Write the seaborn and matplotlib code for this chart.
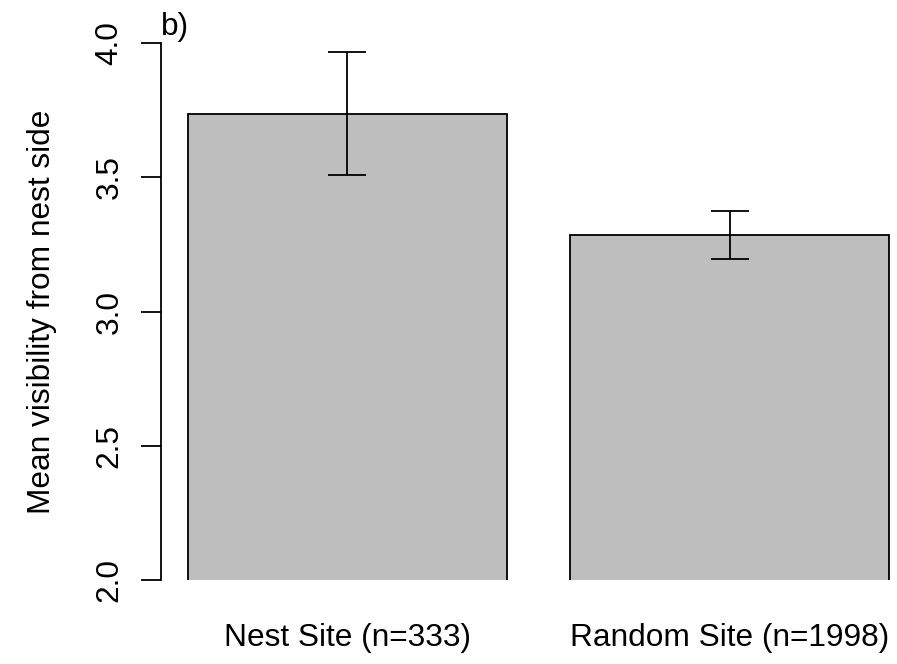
import matplotlib
matplotlib.use("Agg")
import matplotlib.pyplot as plt
import seaborn as sns
import pandas as pd

# data
sites = ["Nest Site (n=333)", "Random Site (n=1998)"]
mean_vis = [3.736, 3.286]
se_vis = [0.229, 0.089]
y_ticks = [2.0, 2.5, 3.0, 3.5, 4.0]

sns.set_style("ticks")
plt.rcParams['font.family'] = ['Liberation Sans', 'DejaVu Sans']
plt.rcParams['font.size'] = 22.8
plt.rcParams['text.color'] = 'black'
plt.rcParams['axes.edgecolor'] = 'black'
plt.rcParams['xtick.color'] = 'black'
plt.rcParams['ytick.color'] = 'black'
plt.rcParams['xtick.labelcolor'] = 'black'
plt.rcParams['ytick.labelcolor'] = 'black'

df = pd.DataFrame({"site": sites, "mean": mean_vis})

fig = plt.figure(figsize=(8.97, 6.64), dpi=100)
ax = fig.add_axes([161 / 897, 84 / 664, 736 / 897, 537 / 664])

sns.barplot(data=df, x="site", y="mean", color="#BEBEBE", saturation=1,
            width=0.834, edgecolor="black", linewidth=1.3, errorbar=None, ax=ax)
ax.errorbar(x=list(range(len(sites))), y=mean_vis, yerr=se_vis, fmt="none",
            ecolor="black", elinewidth=1.3, capsize=14, capthick=1.3)

ax.set_xlim(-0.4877, 1.437)
ax.set_ylim(2, 4)
ax.set_yticks(y_ticks)
ax.set_yticklabels([f"{t:.1f}" for t in y_ticks], rotation=90, va="center")
ax.tick_params(axis="y", length=14.4, width=1.3, pad=12)
ax.tick_params(axis="x", length=0, pad=31)
ax.set_xlabel("")
ax.set_ylabel("")

for s in ["top", "right", "bottom"]:
    ax.spines[s].set_visible(False)
ax.spines["left"].set_linewidth(1.3)
ax.spines["left"].set_bounds(2, 4)

fig.text(50 / 897, 1 - 311.5 / 664, "Mean visibility from nest side", rotation=90,
         rotation_mode="anchor", ha="center", va="baseline")
fig.text(161 / 897, 1 - 35 / 664, "b)", ha="left", va="baseline")

fig.savefig("out.png", dpi=100)
